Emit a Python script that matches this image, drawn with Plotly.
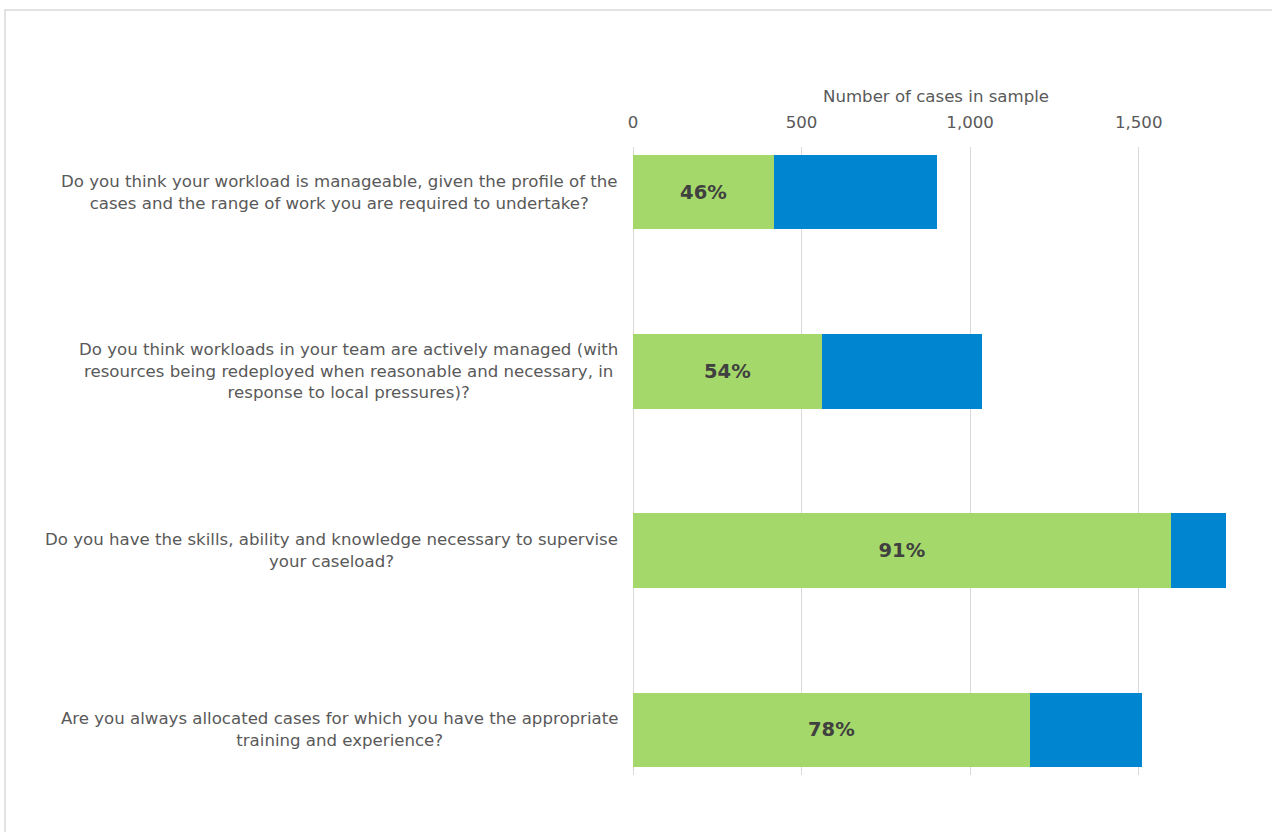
import plotly.graph_objects as go

questions = [
    "Do you think your workload is manageable, given the profile of the<br>cases and the range of work you are required to undertake?",
    "Do you think workloads in your team are actively managed (with<br>resources being redeployed when reasonable and necessary, in<br>response to local pressures)?",
    "Do you have the skills, ability and knowledge necessary to supervise<br>your caseload?",
    "Are you always allocated cases for which you have the appropriate<br>training and experience?",
]
yes_counts = [418, 560, 1595, 1177]
no_counts = [483, 474, 165, 332]
pct_labels = ["46%", "54%", "91%", "78%"]
x_ticks = [0, 500, 1000, 1500]
x_tick_text = ["0", "500", "1,000", "1,500"]
x_title = "Number of cases in sample"

FONT = "DejaVu Sans"
GREY = "#595959"
FS = 16.6

W, H = 1272, 832
L, R, T, B = 633, 45, 147, 57
pw, ph = W - L - R, H - T - B

cats = ["q1", "q2", "q3", "q4"]

fig = go.Figure()
fig.add_trace(go.Bar(
    y=cats, x=yes_counts, orientation="h", width=0.418,
    marker=dict(color="#A5D86A", line=dict(width=0)),
    text=pct_labels, textposition="inside", insidetextanchor="middle",
    textfont=dict(family=FONT, size=19.5, color="#404040", weight="bold"),
    textangle=0, name="Yes", hoverinfo="x",
))
fig.add_trace(go.Bar(
    y=cats, x=no_counts, orientation="h", width=0.418,
    marker=dict(color="#0086D1", line=dict(width=0)),
    name="No", hoverinfo="x",
))

for c, q in zip(cats, questions):
    fig.add_annotation(
        x=0, xref="paper", y=c, yref="y", xanchor="right", yanchor="middle",
        xshift=-13, text=q, align="center", showarrow=False,
        font=dict(family=FONT, size=FS, color=GREY),
    )

# axis title (placed as annotation to match the reference's offset)
fig.add_annotation(
    x=(936 - L) / pw, xref="paper", y=(H - B - 96) / ph, yref="paper",
    xanchor="center", yanchor="middle", text=x_title, showarrow=False,
    font=dict(family=FONT, size=FS, color=GREY),
)

fig.add_shape(
    type="rect", xref="paper", yref="paper",
    x0=(5 - L) / pw, x1=(W + 20 - L) / pw,
    y0=(H - B - (H + 20)) / ph, y1=(H - B - 10) / ph,
    line=dict(color="#D9D9D9", width=1.5), fillcolor="rgba(0,0,0,0)",
    layer="below",
)

fig.update_layout(
    width=W, height=H,
    margin=dict(l=L, r=R, t=T, b=B, pad=0),
    barmode="stack", showlegend=False,
    plot_bgcolor="white", paper_bgcolor="white",
    font=dict(family=FONT, color=GREY),
    uniformtext=dict(mode=False),
    xaxis=dict(
        side="top", range=[0, 1762], tickvals=x_ticks, ticktext=x_tick_text,
        showgrid=True, gridcolor="#D9D9D9", gridwidth=1,
        zeroline=True, zerolinecolor="#D9D9D9", zerolinewidth=1,
        showline=False, ticks="", ticklabelstandoff=15,
        tickfont=dict(family=FONT, size=FS, color=GREY),
        fixedrange=True,
    ),
    yaxis=dict(
        type="category", categoryorder="array", categoryarray=cats,
        range=[3.251, -0.251], showticklabels=False, showgrid=False,
        zeroline=False, ticks="", fixedrange=True,
    ),
)

fig.write_html("out.html", config={"displayModeBar": False},
               post_script="document.body.style.margin='0';")
